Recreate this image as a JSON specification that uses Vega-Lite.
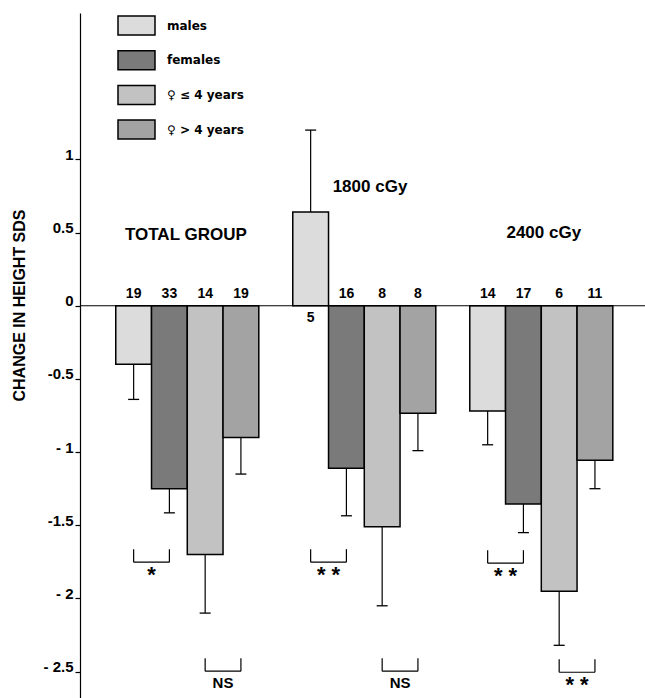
{
  "$schema": "https://vega.github.io/schema/vega-lite/v6.json",
  "width": 565,
  "height": 685,
  "autosize": "none",
  "padding": {"left": 80, "top": 13, "right": 0, "bottom": 0},
  "background": "white",
  "config": {
    "view": {"stroke": null},
    "font": "Liberation Sans",
    "axisY": {
      "grid": false,
      "domainColor": "black", "domainWidth": 1.2,
      "tickColor": "black", "tickSize": 5, "tickWidth": 1.2,
      "labelFont": "Liberation Sans", "labelFontSize": 15, "labelFontWeight": "bold", "labelColor": "black",
      "labelPadding": 2, "labelBaseline": "alphabetic",
      "titleFont": "Liberation Sans", "titleFontSize": 16, "titleFontWeight": "bold", "titleColor": "black",
      "titleX": -61, "titleY": 292, "titleAngle": -90, "titleAlign": "center", "titleBaseline": "middle"
    }
  },
  "datasets": {
    "bars": [
      {"group": "TOTAL GROUP", "series": "males", "x0": 1, "x1": 2, "xc": 1.5, "value": -0.40, "err": -0.64, "n": "19"},
      {"group": "TOTAL GROUP", "series": "females", "x0": 2, "x1": 3, "xc": 2.5, "value": -1.25, "err": -1.415, "n": "33"},
      {"group": "TOTAL GROUP", "series": "♀ ≤ 4 years", "x0": 3, "x1": 4, "xc": 3.5, "value": -1.70, "err": -2.10, "n": "14"},
      {"group": "TOTAL GROUP", "series": "♀ > 4 years", "x0": 4, "x1": 5, "xc": 4.5, "value": -0.90, "err": -1.15, "n": "19"},
      {"group": "1800 cGy", "series": "males", "x0": 5.95, "x1": 6.95, "xc": 6.45, "value": 0.64, "err": 1.20, "n": "5"},
      {"group": "1800 cGy", "series": "females", "x0": 6.95, "x1": 7.95, "xc": 7.45, "value": -1.11, "err": -1.435, "n": "16"},
      {"group": "1800 cGy", "series": "♀ ≤ 4 years", "x0": 7.95, "x1": 8.95, "xc": 8.45, "value": -1.51, "err": -2.05, "n": "8"},
      {"group": "1800 cGy", "series": "♀ > 4 years", "x0": 8.95, "x1": 9.95, "xc": 9.45, "value": -0.735, "err": -0.99, "n": "8"},
      {"group": "2400 cGy", "series": "males", "x0": 10.9, "x1": 11.9, "xc": 11.4, "value": -0.72, "err": -0.95, "n": "14"},
      {"group": "2400 cGy", "series": "females", "x0": 11.9, "x1": 12.9, "xc": 12.4, "value": -1.355, "err": -1.55, "n": "17"},
      {"group": "2400 cGy", "series": "♀ ≤ 4 years", "x0": 12.9, "x1": 13.9, "xc": 13.4, "value": -1.95, "err": -2.32, "n": "6"},
      {"group": "2400 cGy", "series": "♀ > 4 years", "x0": 13.9, "x1": 14.9, "xc": 14.4, "value": -1.055, "err": -1.25, "n": "11"}
    ],
    "brackets": [
      {"xa": 1.5, "xb": 2.5, "xm": 2.0, "yTop": -1.663, "yBot": -1.752, "label": "*"},
      {"xa": 6.45, "xb": 7.45, "xm": 6.95, "yTop": -1.663, "yBot": -1.752, "label": "* *"},
      {"xa": 11.4, "xb": 12.4, "xm": 11.9, "yTop": -1.67, "yBot": -1.759, "label": "* *"},
      {"xa": 3.5, "xb": 4.5, "xm": 4.0, "yTop": -2.408, "yBot": -2.497, "label": "NS"},
      {"xa": 8.45, "xb": 9.45, "xm": 8.95, "yTop": -2.408, "yBot": -2.497, "label": "NS"},
      {"xa": 13.4, "xb": 14.4, "xm": 13.9, "yTop": -2.415, "yBot": -2.504, "label": "* *"}
    ],
    "groups": [
      {"label": "TOTAL GROUP", "x": 2.96, "y": 0.483},
      {"label": "1800 cGy", "x": 8.11, "y": 0.81},
      {"label": "2400 cGy", "x": 12.97, "y": 0.497}
    ]
  },
  "layer": [
    {
      "data": {"name": "bars"},
      "mark": {"type": "rect", "stroke": "black", "strokeWidth": 1.5},
      "encoding": {
        "x": {"field": "x0", "type": "quantitative", "scale": {"domain": [0, 15.8], "nice": false, "zero": false}, "axis": null},
        "x2": {"field": "x1"},
        "y": {
          "field": "value", "type": "quantitative",
          "title": "CHANGE IN HEIGHT SDS",
          "scale": {"domain": [-2.68, 2.0], "nice": false, "zero": false},
          "axis": {
            "values": [-2.5, -2, -1.5, -1, -0.5, 0, 0.5, 1],
            "labelExpr": "datum.value == -0.5 ? '-0.5' : datum.value == -1.5 ? '-1.5' : datum.value < 0 ? '- ' + (-datum.value) : '' + datum.value"
          }
        },
        "y2": {"datum": 0},
        "fill": {
          "field": "series", "type": "nominal",
          "scale": {"domain": ["males", "females", "♀ ≤ 4 years", "♀ > 4 years"], "range": ["#dcdcdc", "#7a7a7a", "#c2c2c2", "#a3a3a3"]},
          "legend": {
            "orient": "none", "legendX": 40.5, "legendY": -3.5, "title": null,
            "symbolType": "M-1.233,-0.633L1.233,-0.633L1.233,0.633L-1.233,0.633Z",
            "symbolSize": 900, "symbolStrokeColor": "black", "symbolStrokeWidth": 1.5, "symbolOpacity": 1,
            "labelFont": "DejaVu Sans", "labelFontSize": 12, "labelFontWeight": "bold", "labelColor": "black",
            "labelOffset": 14.5, "rowPadding": 5.7
          }
        }
      }
    },
    {
      "data": {"name": "bars"},
      "mark": {"type": "rule", "color": "black", "strokeWidth": 1.2},
      "encoding": {
        "x": {"field": "xc", "type": "quantitative"},
        "y": {"field": "value", "type": "quantitative", "title": "CHANGE IN HEIGHT SDS"},
        "y2": {"field": "err"}
      }
    },
    {
      "data": {"name": "bars"},
      "mark": {"type": "tick", "orient": "horizontal", "size": 11, "thickness": 1.3, "color": "black", "opacity": 1},
      "encoding": {
        "x": {"field": "xc", "type": "quantitative"},
        "y": {"field": "err", "type": "quantitative", "title": "CHANGE IN HEIGHT SDS"}
      }
    },
    {
      "data": {"values": [{}]},
      "mark": {"type": "rule", "color": "black", "strokeWidth": 1.2},
      "encoding": {"y": {"datum": 0, "type": "quantitative", "title": "CHANGE IN HEIGHT SDS"}}
    },
    {
      "data": {"name": "bars"},
      "transform": [{"filter": "datum.value < 0"}],
      "mark": {"type": "text", "baseline": "middle", "align": "center", "dy": -12, "fontSize": 14, "fontWeight": "bold", "color": "black"},
      "encoding": {
        "x": {"field": "xc", "type": "quantitative"},
        "y": {"datum": 0, "type": "quantitative", "title": "CHANGE IN HEIGHT SDS"},
        "text": {"field": "n"}
      }
    },
    {
      "data": {"name": "bars"},
      "transform": [{"filter": "datum.value > 0"}],
      "mark": {"type": "text", "baseline": "middle", "align": "center", "dy": 12, "fontSize": 14, "fontWeight": "bold", "color": "black"},
      "encoding": {
        "x": {"field": "xc", "type": "quantitative"},
        "y": {"datum": 0, "type": "quantitative", "title": "CHANGE IN HEIGHT SDS"},
        "text": {"field": "n"}
      }
    },
    {
      "data": {"name": "brackets"},
      "mark": {"type": "rule", "color": "black", "strokeWidth": 1.2},
      "encoding": {
        "x": {"field": "xa", "type": "quantitative"},
        "x2": {"field": "xb"},
        "y": {"field": "yBot", "type": "quantitative", "title": "CHANGE IN HEIGHT SDS"}
      }
    },
    {
      "data": {"name": "brackets"},
      "mark": {"type": "rule", "color": "black", "strokeWidth": 1.2},
      "encoding": {
        "x": {"field": "xa", "type": "quantitative"},
        "y": {"field": "yTop", "type": "quantitative", "title": "CHANGE IN HEIGHT SDS"},
        "y2": {"field": "yBot"}
      }
    },
    {
      "data": {"name": "brackets"},
      "mark": {"type": "rule", "color": "black", "strokeWidth": 1.2},
      "encoding": {
        "x": {"field": "xb", "type": "quantitative"},
        "y": {"field": "yTop", "type": "quantitative", "title": "CHANGE IN HEIGHT SDS"},
        "y2": {"field": "yBot"}
      }
    },
    {
      "data": {"name": "brackets"},
      "transform": [{"filter": "datum.label != 'NS'"}],
      "mark": {"type": "text", "baseline": "middle", "align": "center", "dy": 13, "fontSize": 22, "fontWeight": "bold", "color": "black"},
      "encoding": {
        "x": {"field": "xm", "type": "quantitative"},
        "y": {"field": "yBot", "type": "quantitative", "title": "CHANGE IN HEIGHT SDS"},
        "text": {"field": "label"}
      }
    },
    {
      "data": {"name": "brackets"},
      "transform": [{"filter": "datum.label == 'NS'"}],
      "mark": {"type": "text", "baseline": "middle", "align": "center", "dy": 12, "fontSize": 15, "fontWeight": "bold", "color": "black"},
      "encoding": {
        "x": {"field": "xm", "type": "quantitative"},
        "y": {"field": "yBot", "type": "quantitative", "title": "CHANGE IN HEIGHT SDS"},
        "text": {"field": "label"}
      }
    },
    {
      "data": {"name": "groups"},
      "mark": {"type": "text", "baseline": "middle", "align": "center", "fontSize": 17, "fontWeight": "bold", "color": "black"},
      "encoding": {
        "x": {"field": "x", "type": "quantitative"},
        "y": {"field": "y", "type": "quantitative", "title": "CHANGE IN HEIGHT SDS"},
        "text": {"field": "label"}
      }
    }
  ]
}
